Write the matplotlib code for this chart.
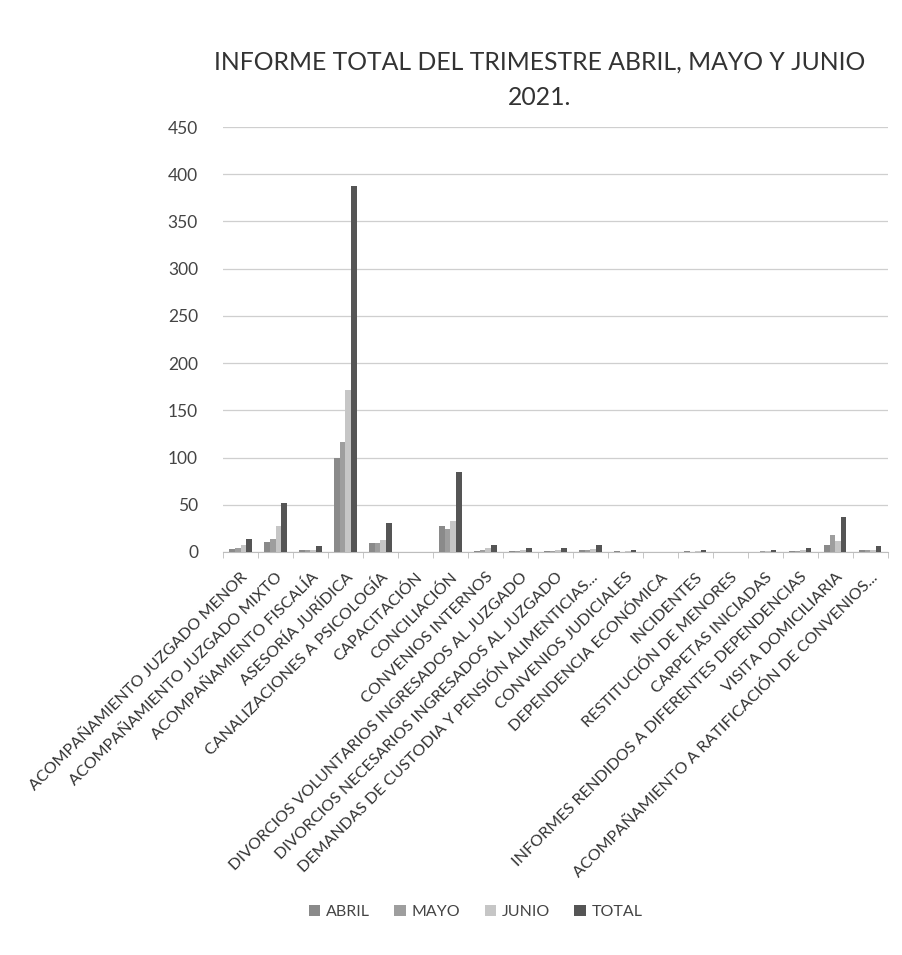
import numpy as np
import matplotlib.pyplot as plt
from matplotlib.ticker import MultipleLocator

categorias = [
    "ACOMPAÑAMIENTO JUZGADO MENOR",
    "ACOMPAÑAMIENTO JUZGADO MIXTO",
    "ACOMPAÑAMIENTO FISCALÍA",
    "ASESORÍA JURÍDICA",
    "CANALIZACIONES A PSICOLOGÍA",
    "CAPACITACIÓN",
    "CONCILIACIÓN",
    "CONVENIOS INTERNOS",
    "DIVORCIOS VOLUNTARIOS INGRESADOS AL JUZGADO",
    "DIVORCIOS NECESARIOS INGRESADOS AL JUZGADO",
    "DEMANDAS DE CUSTODIA Y PENSIÓN ALIMENTICIAS...",
    "CONVENIOS JUDICIALES",
    "DEPENDENCIA ECONÓMICA",
    "INCIDENTES",
    "RESTITUCIÓN DE MENORES",
    "CARPETAS INICIADAS",
    "INFORMES RENDIDOS A DIFERENTES DEPENDENCIAS",
    "VISITA DOMICILIARIA",
    "ACOMPAÑAMIENTO A RATIFICACIÓN DE CONVENIOS...",
]

abril = [3, 11, 2, 100, 9, 0, 28, 1, 1, 1, 2, 1, 0, 1, 0, 0, 1, 7, 2]
mayo = [4, 14, 2, 116, 9, 0, 24, 2, 1, 1, 2, 0, 0, 0, 0, 1, 1, 18, 2]
junio = [7, 27, 2, 172, 13, 0, 33, 4, 2, 2, 3, 1, 0, 1, 0, 1, 2, 12, 2]
total = [14, 52, 6, 388, 31, 0, 85, 7, 4, 4, 7, 2, 0, 2, 0, 2, 4, 37, 6]

series = [("ABRIL", abril, "#8a8a8a"),
          ("MAYO", mayo, "#9e9e9e"),
          ("JUNIO", junio, "#c6c6c6"),
          ("TOTAL", total, "#555555")]

plt.rcParams["font.family"] = ["Lato", "DejaVu Sans"]

fig = plt.figure(figsize=(9.03, 9.55), dpi=100)
ax = fig.add_axes([0.247, 0.422, 0.736, 0.445])

x = np.arange(len(categorias))
w = 0.16
for i, (nombre, vals, color) in enumerate(series):
    ax.bar(x + (i - 1.5) * w, vals, width=w, color=color, label=nombre, zorder=3)

ax.set_xlim(-0.5, len(categorias) - 0.5)
ax.set_ylim(0, 450)
ax.yaxis.set_major_locator(MultipleLocator(50))
ax.grid(axis="y", color="#cfcfcf", linewidth=0.9, zorder=0)
for s in ["top", "right", "left"]:
    ax.spines[s].set_visible(False)
ax.spines["bottom"].set_color("#bdbdbd")

ax.set_xticks(x)
ax.set_xticklabels(categorias, rotation=45, ha="right", rotation_mode="anchor",
                   fontsize=11.6, color="#333333")
ax.set_xticks(np.arange(-0.5, len(categorias)), minor=True)
ax.tick_params(axis="x", which="major", length=0, pad=13)
ax.tick_params(axis="x", which="minor", length=4, color="#bdbdbd")
ax.tick_params(axis="y", length=0, labelsize=12.5, labelcolor="#444444", pad=18)

fig.text(0.598, 0.935, "INFORME TOTAL DEL TRIMESTRE ABRIL, MAYO Y JUNIO",
         ha="center", va="center", fontsize=17.8, color="#333333")
fig.text(0.598, 0.898, "2021.", ha="center", va="center", fontsize=17.8, color="#333333")

fig.legend(loc="center", bbox_to_anchor=(0.527, 0.045), ncol=4, frameon=False,
           fontsize=11.5, handlelength=0.7, handleheight=0.7, columnspacing=1.5,
           handletextpad=0.4, labelcolor="#444444")

fig.savefig("out.png", dpi=100, facecolor="white")
